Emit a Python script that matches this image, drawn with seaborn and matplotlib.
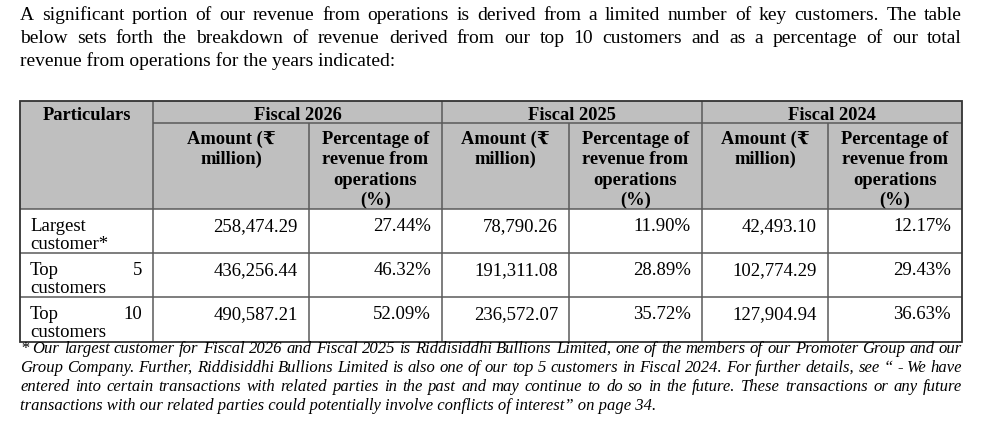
import matplotlib
matplotlib.use("Agg")
import matplotlib.pyplot as plt
import seaborn as sns
from matplotlib.patches import Rectangle

# ---- data ----
intro_lines = [
    "A significant portion of our revenue from operations is derived from a limited number of key customers. The table",
    "below sets forth the breakdown of revenue derived from our top 10 customers and as a percentage of our total",
    "revenue from operations for the years indicated:",
]
fiscal_years = ["Fiscal 2026", "Fiscal 2025", "Fiscal 2024"]
sub_headers = [["Amount (₹", "million)"],
               ["Percentage of", "revenue from", "operations", "(%)"]]
row_labels = [("Largest", "", "customer*"), ("Top", "5", "customers"), ("Top", "10", "customers")]
amounts_2026 = ["258,474.29", "436,256.44", "490,587.21"]
pct_2026 = ["27.44%", "46.32%", "52.09%"]
amounts_2025 = ["78,790.26", "191,311.08", "236,572.07"]
pct_2025 = ["11.90%", "28.89%", "35.72%"]
amounts_2024 = ["42,493.10", "102,774.29", "127,904.94"]
pct_2024 = ["12.17%", "29.43%", "36.63%"]
footnote_lines = [
    "* Our largest customer for Fiscal 2026 and Fiscal 2025 is Riddisiddhi Bullions Limited, one of the members of our Promoter Group and our",
    "Group Company. Further, Riddisiddhi Bullions Limited is also one of our top 5 customers in Fiscal 2024. For further details, see “ - We have",
    "entered into certain transactions with related parties in the past and may continue to do so in the future. These transactions or any future",
    "transactions with our related parties could potentially involve conflicts of interest” on page 34.",
]

sns.set_theme(style="white")
plt.rcParams['font.family'] = ['Liberation Serif', 'DejaVu Serif', 'DejaVu Sans']

W, H = 986, 430
fig = plt.figure(figsize=(W / 100, H / 100), dpi=100)
ax = fig.add_axes([0, 0, 1, 1])
ax.set_xlim(0, W)
ax.set_ylim(H, 0)
ax.axis("off")
renderer = fig.canvas.get_renderer()

LEFT, RIGHT = 20, 962


def text_width(s, **kw):
    t = ax.text(0, 0, s, **kw)
    bb = t.get_window_extent(renderer=renderer)
    t.remove()
    return bb.width


def draw_line(s, y, justify, **kw):
    if not justify:
        ax.text(LEFT, y, s, ha="left", va="baseline", **kw)
        return
    words = s.split(" ")
    widths = [text_width(w, **kw) for w in words]
    gap = (RIGHT - LEFT - sum(widths)) / (len(words) - 1)
    x = LEFT
    for w, wd in zip(words, widths):
        ax.text(x, y, w, ha="left", va="baseline", **kw)
        x += wd + gap


para = dict(fontsize=14, color="black")
for i, line in enumerate(intro_lines):
    draw_line(line, 20 + i * 23, i < len(intro_lines) - 1, **para)

# ---- table grid ----
cols = [20, 153, 309, 442, 569, 702, 828, 962]
top, mid, head_bot = 100.5, 123, 209
rows = [209, 253, 297, 342]
ax.add_patch(Rectangle((cols[0], top), cols[-1] - cols[0], head_bot - top,
                       facecolor="#bfbfbf", edgecolor="none", zorder=0))
inner = dict(color="#5a5a5a", lw=1.1, zorder=2)
ax.hlines(mid, cols[1], cols[-1], **inner)
for y in rows[:-1]:
    ax.hlines(y, cols[0], cols[-1], **inner)
for i, x in enumerate(cols[1:-1]):
    y0 = top if i % 2 == 0 else mid
    ax.vlines(x, y0, rows[-1], **inner)
ax.add_patch(Rectangle((cols[0], top), cols[-1] - cols[0], rows[-1] - top,
                       facecolor="none", edgecolor="#333333", lw=1.3, zorder=3))

# ---- headers ----
bold = dict(fontsize=13.3, fontweight="bold", color="black", va="baseline", ha="center")
ax.text((cols[0] + cols[1]) / 2, 119.5, "Particulars", **bold)
for k, fy in enumerate(fiscal_years):
    c0 = cols[1 + 2 * k]
    ax.text((c0 + cols[3 + 2 * k]) / 2, 119.5, fy, **bold)
    for j, lines in enumerate(sub_headers):
        cx = (cols[1 + 2 * k + j] + cols[2 + 2 * k + j]) / 2
        for m, s in enumerate(lines):
            ax.text(cx, 144 + m * 20.3, s, zorder=1, **bold)

# ---- body rows ----
body = dict(fontsize=13.5, color="black")
values = [amounts_2026, pct_2026, amounts_2025, pct_2025, amounts_2024, pct_2024]
for r, (l1, num, l2) in enumerate(row_labels):
    base = rows[r] + 22
    ax.text(cols[0] + 10, base, l1, ha="left", va="baseline", **body)
    if num:
        ax.text(cols[1] - 11, base, num, ha="right", va="baseline", **body)
    ax.text(cols[0] + 10, base + 18, l2, ha="left", va="baseline", **body)
    for c, series in enumerate(values):
        ax.text(cols[c + 2] - 11, base, series[r], ha="right", va="baseline", **body)

# ---- footnote ----
foot = dict(fontsize=12, style="italic", color="black")
for i, line in enumerate(footnote_lines):
    draw_line(line, 353 + i * 19, i < len(footnote_lines) - 1, **foot)

fig.savefig("out.png", dpi=100, facecolor="white")
